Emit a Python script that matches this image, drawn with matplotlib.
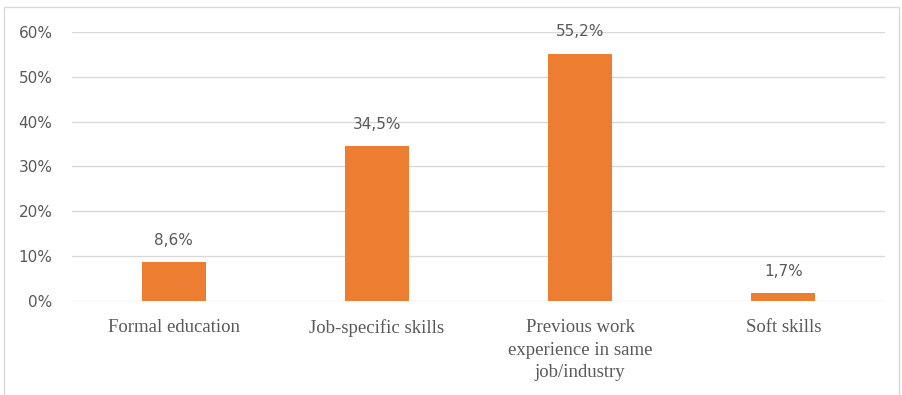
import matplotlib.pyplot as plt
from matplotlib.patches import Rectangle

categories = ["Formal education", "Job-specific skills",
              "Previous work\nexperience in same\njob/industry", "Soft skills"]
shares = [8.6, 34.5, 55.2, 1.7]
yticks = [0, 10, 20, 30, 40, 50, 60]

ORANGE = "#ED7D31"
GRID = "#D9D9D9"
TEXT = "#595959"

fig = plt.figure(figsize=(9.02, 3.95), dpi=100)
ax = fig.add_axes([0.0798, 0.238, 0.9012, 0.681])

# chart frame
fig.patches.append(Rectangle((4 / 902, -0.05), 895 / 902, 1 - 7 / 395 + 0.05,
                             transform=fig.transFigure, fill=False,
                             edgecolor=GRID, linewidth=1))

x = range(len(categories))
ax.bar(x, shares, width=0.315, color=ORANGE, zorder=2)

for i, v in zip(x, shares):
    ax.text(i, v + 4.9, f"{v:.1f}%".replace(".", ","), ha="center", va="center",
            fontsize=11, color=TEXT, family="DejaVu Sans")

ax.set_xlim(-0.5, 3.5)
ax.set_ylim(0, 60)
ax.set_yticks(yticks)
ax.set_yticklabels([f"{t}%" for t in yticks], fontsize=11, color=TEXT)
ax.set_xticks(list(x))
ax.set_xticklabels(categories, fontsize=13.5, color=TEXT, family="Liberation Serif",
                   linespacing=1.44, va="top")
ax.tick_params(axis="both", length=0)
ax.tick_params(axis="x", pad=13)
ax.tick_params(axis="y", pad=14)
ax.grid(axis="y", color=GRID, linewidth=1, zorder=0)
for s in ax.spines.values():
    s.set_visible(False)

fig.savefig("out.png", dpi=100)
